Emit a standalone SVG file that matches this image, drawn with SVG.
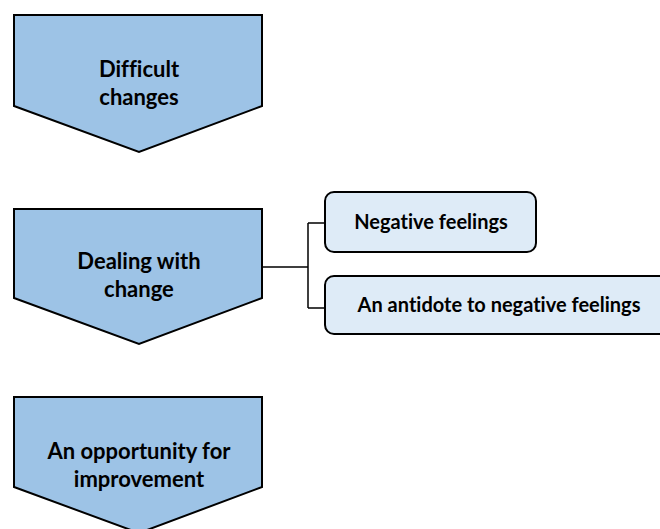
<svg xmlns="http://www.w3.org/2000/svg" width="660" height="529" viewBox="0 0 660 529">
<style>
.chev{fill:#9DC3E6;stroke:#000;stroke-width:2;stroke-linejoin:miter}
.box{fill:#DEEBF7;stroke:#000;stroke-width:2}
.t{font-family:Lato,"Open Sans",sans-serif;font-weight:bold;font-size:22px;fill:#000;text-anchor:middle;font-variant-ligatures:none;font-feature-settings:"liga" 0,"dlig" 0}
.s{font-size:20px}
.conn{fill:none;stroke:#000;stroke-width:1.5}
</style>
<rect width="660" height="529" fill="#fff"/>
<g id="n1">
<polygon class="chev" points="14,15 262,15 262,106 139,152 14,106"/>
<text class="t" x="139" y="77">Difficult</text>
<text class="t" x="139" y="105">changes</text>
</g>
<g id="n2">
<polygon class="chev" points="14,209 262,209 262,298 139,344 14,298"/>
<text class="t" x="139" y="269">Dealing with</text>
<text class="t" x="139" y="297">change</text>
</g>
<g id="n3">
<polygon class="chev" points="14,397 262,397 262,487 139,533 14,487"/>
<text class="t" x="139" y="459">An opportunity for</text>
<text class="t" x="139" y="487">improvement</text>
</g>
<g id="n4">
<rect class="box" x="325" y="192" width="211" height="60" rx="9"/>
<text class="t s" x="431" y="229">Negative feelings</text>
</g>
<g id="n5">
<rect class="box" x="325" y="276" width="345" height="58" rx="9"/>
<text class="t s" x="499" y="312">An antidote to negative feelings</text>
</g>
<g id="connectors">
<path class="conn" d="M262,267 H308 M308,223 V308 M308,223 H325 M308,308 H325"/>
</g>
</svg>
